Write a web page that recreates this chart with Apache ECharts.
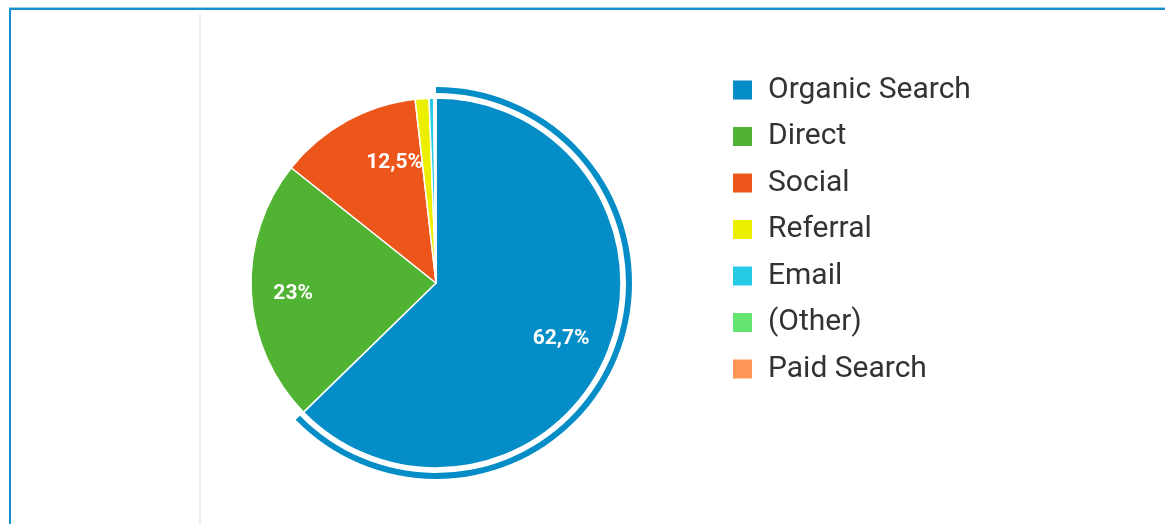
<!DOCTYPE html>
<html>
<head>
<meta charset="utf-8">
<script src="https://cdn.jsdelivr.net/npm/echarts@6/dist/echarts.min.js"></script>
<style>
  html, body { margin: 0; padding: 0; background: #ffffff; }
  #chart { width: 1165px; height: 524px; }
</style>
</head>
<body>
<div id="chart"></div>
<script>
// channel shares, in percent
const channels = ['Organic Search', 'Direct', 'Social', 'Referral', 'Email', '(Other)', 'Paid Search'];
const shares = [62.7, 23, 12.5, 1.2, 0.4, 0.1, 0.1];
const colors = ['#058DC7', '#50B432', '#ED561B', '#EDEF00', '#24CBE5', '#64E572', '#FF9655'];

const center = [436, 283];
const fmt = v => String(v).replace('.', ',') + '%';

const chart = echarts.init(document.getElementById('chart'));

const pieData = channels.map((name, i) => ({ name, value: shares[i], itemStyle: { color: colors[i] } }));

// label nudges so they sit where the original tool put them
const labelOffsets = { 'Social': [26, 1], 'Direct': [-4, 4], 'Organic Search': [-3, 2] };

chart.setOption({
  animation: false,
  backgroundColor: '#ffffff',
  color: colors,
  legend: {
    orient: 'vertical',
    left: 726,
    top: 70,
    icon: 'rect',
    itemWidth: 21,
    itemHeight: 21,
    itemGap: 16.5,
    selectedMode: false,
    data: channels,
    textStyle: {
      fontFamily: 'Roboto',
      fontSize: 30,
      color: '#333333',
      lineHeight: 28,
      padding: [0, 0, 0, 10]
    }
  },
  graphic: [
    // outer frame: top + left blue edges, grey divider
    { type: 'rect', shape: { x: 9, y: 8, width: 1160, height: 2 }, style: { fill: '#1a8fcf' }, silent: true },
    { type: 'rect', shape: { x: 9, y: 7, width: 1160, height: 1 }, style: { fill: '#9fd0ea' }, silent: true },
    { type: 'rect', shape: { x: 9, y: 8, width: 2, height: 520 }, style: { fill: '#1a8fcf' }, silent: true },
    { type: 'rect', shape: { x: 199, y: 14, width: 2, height: 520 }, style: { fill: '#eeeeee' }, silent: true }
  ],
  series: [
    {
      type: 'pie',
      center: center,
      radius: [0, 185],
      startAngle: 90,
      clockwise: true,
      avoidLabelOverlap: false,
      emphasis: { disabled: true },
      itemStyle: { borderColor: '#ffffff', borderWidth: 1.5 },
      label: { show: false },
      labelLine: { show: false },
      data: pieData
    },
    {
      // highlight ring around the first slice
      type: 'pie',
      center: center,
      radius: [190, 196],
      startAngle: 90,
      silent: true,
      emphasis: { disabled: true },
      label: { show: false },
      labelLine: { show: false },
      data: channels.map((name, i) => ({
        name, value: shares[i],
        itemStyle: { color: i === 0 ? colors[0] : 'rgba(0,0,0,0)', borderWidth: 0 }
      }))
    },
    {
      // invisible band used only to place the percentage labels
      type: 'pie',
      center: center,
      radius: [92, 180],
      startAngle: 90,
      silent: true,
      emphasis: { disabled: true },
      itemStyle: { color: 'rgba(0,0,0,0)', borderWidth: 0 },
      labelLine: { show: false },
      label: {
        show: true,
        position: 'inside',
        fontFamily: 'Roboto',
        fontSize: 21,
        fontWeight: 'bold',
        color: '#ffffff',
        formatter: p => (p.value >= 5 ? fmt(p.value) : '')
      },
      data: channels.map((name, i) => ({
        name, value: shares[i],
        label: labelOffsets[name] ? { offset: labelOffsets[name] } : undefined
      }))
    }
  ]
});
</script>
</body>
</html>
